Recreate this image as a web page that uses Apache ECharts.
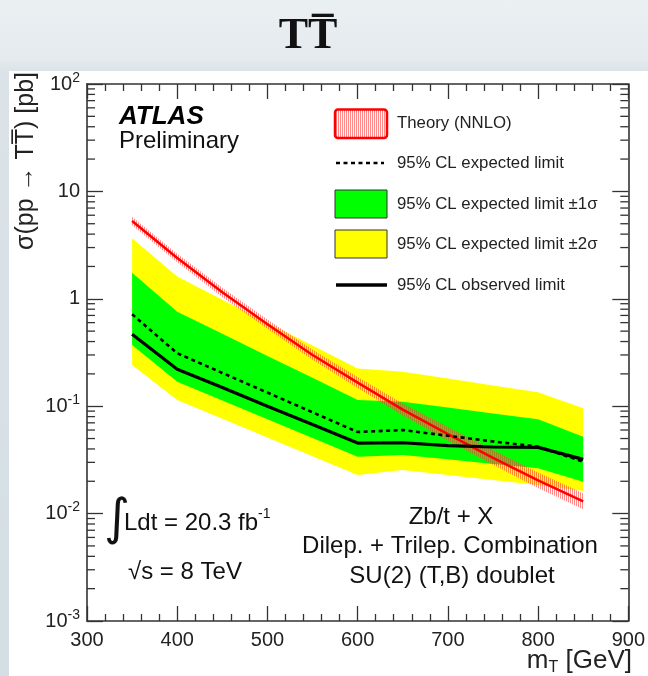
<!DOCTYPE html>
<html><head><meta charset="utf-8">
<script src="https://cdn.jsdelivr.net/npm/echarts@6/dist/echarts.min.js"></script>
<style>
html,body{margin:0;padding:0;width:648px;height:676px;overflow:hidden;}
body{background:linear-gradient(#ebf0f3 0px,#e4eaee 60px,#dbe3e8 72px,#d3dee5 676px);}
#panel{position:absolute;left:9px;top:71px;width:639px;height:605px;background:#fff;}
#chart{position:absolute;left:0;top:0;width:648px;height:676px;}
</style></head><body>
<div id="panel"></div>
<div id="chart"></div>
<script>
// ---- data ----
const masses   = [350, 400, 450, 500, 550, 600, 650, 700, 750, 800, 850];
const observed = [0.467, 0.221, 0.149, 0.100, 0.0675, 0.0454, 0.0457, 0.043, 0.0417, 0.0414, 0.032];
const expected = [0.718, 0.311, 0.204, 0.134, 0.0877, 0.0575, 0.060, 0.053, 0.047, 0.042, 0.0304];
const sigma1Hi = [1.75, 0.758, 0.472, 0.294, 0.184, 0.114, 0.110, 0.097, 0.0857, 0.0755, 0.052];
const sigma1Lo = [0.372, 0.169, 0.113, 0.0757, 0.0506, 0.0339, 0.0351, 0.032, 0.029, 0.0264, 0.0198];
const sigma2Hi = [3.66, 1.61, 0.98, 0.60, 0.368, 0.225, 0.209, 0.181, 0.156, 0.135, 0.0956];
const sigma2Lo = [0.242, 0.114, 0.0764, 0.0512, 0.0342, 0.0229, 0.0255, 0.0229, 0.0206, 0.0185, 0.0162];
const theory   = [5.3, 2.4, 1.15, 0.58, 0.30, 0.166, 0.093, 0.055, 0.033, 0.0204, 0.013];
const theoryHi = [5.8, 2.63, 1.27, 0.64, 0.335, 0.187, 0.106, 0.064, 0.039, 0.0242, 0.0155];
const theoryLo = [4.85, 2.19, 1.04, 0.525, 0.27, 0.148, 0.082, 0.048, 0.0285, 0.0173, 0.011];
const yMinorTicks = [0.002,0.003,0.004,0.005,0.006,0.007,0.008,0.009,
                     0.02,0.03,0.04,0.05,0.06,0.07,0.08,0.09,
                     0.2,0.3,0.4,0.5,0.6,0.7,0.8,0.9,
                     2,3,4,5,6,7,8,9,
                     20,30,40,50,60,70,80,90];
const xRange = [300, 900];
const yRange = [0.001, 100];

// ---- styles ----
const FONT = '"Liberation Sans", Helvetica, Arial, sans-serif';
const AX = '#333';
const hatch = document.createElement('canvas');
hatch.width = 2; hatch.height = 4;
(function(){const c = hatch.getContext('2d'); c.fillStyle = 'rgba(255,60,60,0.6)'; c.fillRect(0,0,1,4);})();
const hatchFill = {image: hatch, repeat: 'repeat'};

function band(name, lo, hi, fill, z) {
  return {
    type: 'custom', name, z, silent: true,
    data: [[masses[0], hi[0]]],
    renderItem: function (params, api) {
      const pts = [];
      for (let i = 0; i < masses.length; i++) pts.push(api.coord([masses[i], hi[i]]));
      for (let i = masses.length - 1; i >= 0; i--) pts.push(api.coord([masses[i], lo[i]]));
      return {type: 'polygon', shape: {points: pts}, style: {fill: fill, stroke: null}};
    }
  };
}
function pairs(ys) { return masses.map((m, i) => [m, ys[i]]); }

const tickStyle = {color: AX, width: 1.3};
const axisLine = {show: true, onZero: false, lineStyle: {color: AX, width: 1.6}};

function xAx(pos, showLabel) {
  return {
    type: 'value', min: xRange[0], max: xRange[1], interval: 100, position: pos,
    axisLine: axisLine, splitLine: {show: false},
    axisTick: {show: true, inside: true, length: 15, lineStyle: tickStyle},
    minorTick: {show: true, splitNumber: 5, length: 7, lineStyle: tickStyle},
    axisLabel: {show: showLabel, fontSize: 20, color: '#222', fontFamily: FONT, margin: 9,
                showMinLabel: true, showMaxLabel: true}
  };
}
function yAx(pos, showLabel) {
  return {
    type: 'log', logBase: 10, min: yRange[0], max: yRange[1], position: pos,
    axisLine: axisLine, splitLine: {show: false},
    axisTick: {show: true, inside: true, length: 16, lineStyle: tickStyle},
    axisLabel: {
      show: showLabel, margin: 7, fontFamily: FONT,
      formatter: function (v) {
        const e = Math.round(Math.log10(v));
        if (e === 1) return '{b|10}';
        if (e === 0) return '{b|1}';
        return '{b|10}{s|' + e + '}';
      },
      rich: {
        b: {fontSize: 20, color: '#222', fontFamily: FONT, lineHeight: 26},
        s: {fontSize: 14, color: '#222', fontFamily: FONT, lineHeight: 14, verticalAlign: 'top'}
      }
    }
  };
}

const chart = echarts.init(document.getElementById('chart'), null, {renderer: 'canvas'});
const mid = {verticalAlign: 'middle', textVerticalAlign: 'middle'};
const ctr = {align: 'center', textAlign: 'center', verticalAlign: 'middle', textVerticalAlign: 'middle'};
const option = {
  animation: false,
  backgroundColor: 'transparent',
  grid: {left: 87, right: 15, top: 84, bottom: 55, containLabel: false},
  xAxis: [xAx('bottom', true), xAx('top', false)],
  yAxis: [yAx('left', true), yAx('right', false)],
  series: [
    band('2sigma', sigma2Lo, sigma2Hi, '#ffff00', 1),
    band('1sigma', sigma1Lo, sigma1Hi, '#00ff00', 2),
    band('theoryBand', theoryLo, theoryHi, hatchFill, 3),
    {type: 'line', name: 'Theory', z: 4, data: pairs(theory), showSymbol: false, silent: true,
     lineStyle: {color: '#ff0000', width: 2.5}},
    {type: 'line', name: 'Expected', z: 5, data: pairs(expected), showSymbol: false, silent: true,
     lineStyle: {color: '#000', width: 2.6, type: [4, 3.5]}},
    {type: 'line', name: 'Observed', z: 6, data: pairs(observed), showSymbol: false, silent: true,
     lineStyle: {color: '#000', width: 3.2}},
    {type: 'custom', name: 'yMinor', z: 7, silent: true,
     data: yMinorTicks.map(v => [xRange[0], v]),
     renderItem: function (params, api) {
       const v = api.value(1);
       const L = api.coord([xRange[0], v]);
       const R = api.coord([xRange[1], v]);
       return {type: 'group', children: [
         {type: 'line', shape: {x1: L[0], y1: L[1], x2: L[0] + 8, y2: L[1]}, style: {stroke: AX, lineWidth: 1.3}},
         {type: 'line', shape: {x1: R[0] - 8, y1: R[1], x2: R[0], y2: R[1]}, style: {stroke: AX, lineWidth: 1.3}}
       ]};
     }}
  ],
  graphic: [
    // page title
    {type: 'text', x: 308, y: 37, style: Object.assign({text: 'TT\u0305', font: 'bold 44px "Liberation Serif", "DejaVu Serif", serif', fill: '#111'}, ctr)},
    // y axis title
    {type: 'text', x: 26, y: 72, rotation: Math.PI / 2,
     style: {text: '\u03c3(pp \u2192 TT\u0305) [pb]', font: '25px ' + FONT, fill: '#222',
       align: 'right', verticalAlign: 'middle', textAlign: 'right', textVerticalAlign: 'middle'}},
    // x axis title
    {type: 'text', x: 632, y: 661,
     style: {text: '{a|m}{t|T}{a| [GeV]}', align: 'right', verticalAlign: 'middle', textAlign: 'right', textVerticalAlign: 'middle',
       rich: {a: {font: '26px ' + FONT, fill: '#222', lineHeight: 30},
              t: {font: '16px ' + FONT, fill: '#222', lineHeight: 16, verticalAlign: 'bottom'}}}},
    // ATLAS label
    {type: 'text', x: 119, y: 117, style: Object.assign({text: 'ATLAS', font: 'italic bold 26px ' + FONT, fill: '#000'}, mid)},
    {type: 'text', x: 119, y: 141, style: Object.assign({text: 'Preliminary', font: '24px ' + FONT, fill: '#111'}, mid)},
    // legend
    {type: 'rect', shape: {x: 335, y: 109.5, width: 52, height: 28.5, r: 3},
     style: {fill: hatchFill, stroke: '#ff0000', lineWidth: 2.5}},
    {type: 'line', shape: {x1: 336, y1: 163, x2: 384, y2: 163}, style: {stroke: '#000', lineWidth: 2.6, lineDash: [4, 3.5]}},
    {type: 'rect', shape: {x: 335, y: 190, width: 52, height: 28}, style: {fill: '#00ff00', stroke: '#333', lineWidth: 1}},
    {type: 'rect', shape: {x: 335, y: 230, width: 52, height: 28}, style: {fill: '#ffff00', stroke: '#333', lineWidth: 1}},
    {type: 'line', shape: {x1: 336, y1: 285, x2: 387, y2: 285}, style: {stroke: '#000', lineWidth: 3.5}},
    {type: 'text', x: 397, y: 123, style: Object.assign({text: 'Theory (NNLO)', font: '16.8px ' + FONT, fill: '#222'}, mid)},
    {type: 'text', x: 397, y: 163, style: Object.assign({text: '95% CL expected limit', font: '16.8px ' + FONT, fill: '#222'}, mid)},
    {type: 'text', x: 397, y: 204, style: Object.assign({text: '95% CL expected limit \u00b11\u03c3', font: '16.8px ' + FONT, fill: '#222'}, mid)},
    {type: 'text', x: 397, y: 244, style: Object.assign({text: '95% CL expected limit \u00b12\u03c3', font: '16.8px ' + FONT, fill: '#222'}, mid)},
    {type: 'text', x: 397, y: 285, style: Object.assign({text: '95% CL observed limit', font: '16.8px ' + FONT, fill: '#222'}, mid)},
    // luminosity
    {type: 'text', x: 104, y: 521, style: Object.assign({text: '\u222b', font: '50px "DejaVu Sans", ' + FONT, fill: '#111'}, mid)},
    {type: 'text', x: 124, y: 523, style: {text: '{a|Ldt = 20.3 fb}{s|-1}', verticalAlign: 'middle', textVerticalAlign: 'middle',
      rich: {a: {font: '24px ' + FONT, fill: '#111', lineHeight: 32}, s: {font: '14px ' + FONT, fill: '#111', lineHeight: 14, verticalAlign: 'top'}}}},
    {type: 'text', x: 128, y: 572, style: Object.assign({text: '\u221as = 8 TeV', font: '24px ' + FONT, fill: '#111'}, mid)},
    // channel text
    {type: 'text', x: 451, y: 517, style: Object.assign({text: 'Zb/t + X', font: '24px ' + FONT, fill: '#111'}, ctr)},
    {type: 'text', x: 450, y: 546, style: Object.assign({text: 'Dilep. + Trilep. Combination', font: '24px ' + FONT, fill: '#111'}, ctr)},
    {type: 'text', x: 452, y: 576, style: Object.assign({text: 'SU(2) (T,B) doublet', font: '24px ' + FONT, fill: '#111'}, ctr)}
  ]
};
chart.setOption(option);
</script>
</body></html>
